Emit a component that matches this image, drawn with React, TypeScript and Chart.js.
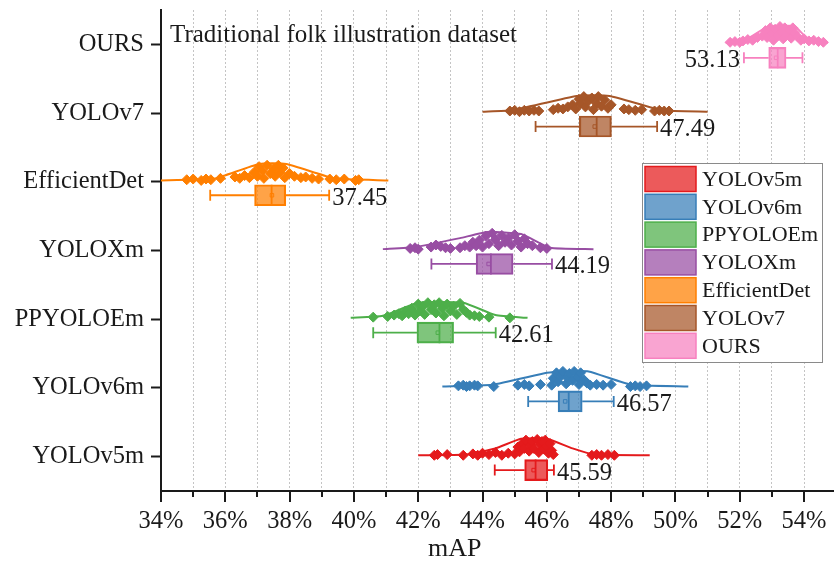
import React, { useEffect, useRef } from 'react';
import { Chart, registerables } from 'chart.js';
Chart.register(...registerables);

const CATEGORIES = ['YOLOv5m', 'YOLOv6m', 'PPYOLOEm', 'YOLOXm', 'EfficientDet', 'YOLOv7', 'OURS'];
const COLORS = ['#E41A1C', '#377EB8', '#4DAF4A', '#984EA3', '#FF7F00', '#A65628', '#F781BF'];
const BOX_FILLS = ['rgba(228,26,28,0.72)', 'rgba(55,126,184,0.72)', 'rgba(77,175,74,0.72)', 'rgba(152,78,163,0.72)', 'rgba(255,127,0,0.72)', 'rgba(166,86,40,0.72)', 'rgba(247,129,191,0.72)'];
const X_TICKS = [34, 35, 36, 37, 38, 39, 40, 41, 42, 43, 44, 45, 46, 47, 48, 49, 50, 51, 52, 53, 54];
const TITLE = 'Traditional folk illustration dataset';
const X_TITLE = 'mAP';

// box-plot statistics (mAP %)
const WHISKER_LOW = [44.38, 45.42, 40.6, 42.41, 35.53, 45.65, 52.13];
const Q1 = [45.31, 46.35, 41.96, 43.8, 36.91, 47.01, 52.9];
const MEDIAN = [45.65, 46.68, 42.66, 44.26, 37.44, 47.55, 53.18];
const Q3 = [46.03, 47.1, 43.1, 44.95, 37.88, 48.01, 53.44];
const WHISKER_HIGH = [46.22, 48.08, 44.41, 46.16, 39.23, 49.43, 53.95];
const MEANS = [45.59, 46.57, 42.61, 44.19, 37.45, 47.49, 53.13];

// raw runs: [mAP, jitter height]
const YOLOV5M_POINTS = [[42.5, 0], [42.6, 0.01], [42.9, 0.01], [43.4, 0], [43.7, 0.02], [43.85, 0], [44.0, 0.03], [44.2, 0.01], [44.4, 0.04], [44.6, 0], [44.8, 0.03], [45.0, 0.02], [45.15, 0.05], [45.1, 0.12], [45.25, 0.18], [45.3, 0.1], [45.35, 0.22], [45.45, 0.06], [45.5, 0.15], [45.55, 0.2], [45.6, 0.1], [45.7, 0.23], [45.75, 0.04], [45.8, 0.16], [45.85, 0.2], [45.9, 0.09], [45.95, 0.22], [46.0, 0.13], [46.05, 0.03], [46.1, 0.17], [46.15, 0.07], [46.2, 0.01], [47.4, 0], [47.55, 0.01], [47.7, 0], [47.9, 0.01], [48.1, 0]];
const YOLOV6M_POINTS = [[43.25, 0.01], [43.4, 0.02], [43.5, 0], [43.6, 0.01], [43.75, 0.02], [43.85, 0.01], [44.35, 0], [45.1, 0.02], [45.3, 0.03], [45.45, 0.01], [45.8, 0.03], [46.15, 0.02], [46.2, 0.12], [46.3, 0.2], [46.35, 0.07], [46.45, 0.16], [46.5, 0.22], [46.6, 0.04], [46.65, 0.12], [46.7, 0.19], [46.8, 0.09], [46.85, 0.22], [46.95, 0.14], [47.0, 0.03], [47.05, 0.2], [47.15, 0.1], [47.25, 0.05], [47.35, 0.02], [47.55, 0.03], [47.75, 0.02], [48.0, 0.03], [48.6, 0], [48.75, 0.01], [48.9, 0], [49.1, 0.01]];
const PPYOLOEM_POINTS = [[40.6, 0.01], [41.05, 0.02], [41.25, 0.04], [41.4, 0.06], [41.5, 0.03], [41.6, 0.1], [41.7, 0.06], [41.8, 0.14], [41.9, 0.04], [42.0, 0.2], [42.05, 0.1], [42.15, 0.17], [42.2, 0.05], [42.3, 0.22], [42.4, 0.12], [42.5, 0.19], [42.55, 0.07], [42.65, 0.22], [42.75, 0.14], [42.8, 0.03], [42.9, 0.2], [43.0, 0.1], [43.1, 0.17], [43.2, 0.05], [43.3, 0.21], [43.4, 0.12], [43.5, 0.08], [43.6, 0.04], [43.75, 0.03], [43.9, 0.02], [44.2, 0.01], [44.85, 0]];
const YOLOXM_POINTS = [[41.75, 0.01], [41.9, 0.02], [42.0, 0], [42.4, 0.03], [42.55, 0.06], [42.7, 0.04], [42.85, 0.02], [43.0, 0.01], [43.3, 0.02], [43.45, 0.05], [43.6, 0.03], [43.7, 0.1], [43.8, 0.05], [43.9, 0.13], [44.0, 0.03], [44.1, 0.19], [44.2, 0.08], [44.3, 0.23], [44.4, 0.14], [44.5, 0.05], [44.6, 0.2], [44.7, 0.1], [44.8, 0.16], [44.9, 0.06], [45.0, 0.21], [45.1, 0.12], [45.2, 0.03], [45.3, 0.15], [45.4, 0.08], [45.55, 0.05], [45.8, 0.02], [46.0, 0.01]];
const EFFICIENTDET_POINTS = [[34.8, 0.01], [35.0, 0.02], [35.25, 0], [35.4, 0.02], [35.55, 0.01], [35.85, 0.03], [36.3, 0.05], [36.45, 0.03], [36.6, 0.07], [36.75, 0.04], [36.9, 0.12], [37.0, 0.06], [37.05, 0.2], [37.15, 0.14], [37.2, 0.03], [37.3, 0.22], [37.4, 0.1], [37.5, 0.17], [37.55, 0.06], [37.65, 0.22], [37.7, 0.12], [37.8, 0.18], [37.85, 0.04], [38.0, 0.1], [38.15, 0.06], [38.35, 0.04], [38.5, 0.05], [38.7, 0.03], [38.9, 0.02], [39.25, 0.02], [39.45, 0.01], [39.7, 0.02], [40.05, 0], [40.15, 0.01]];
const YOLOV7_POINTS = [[44.85, 0.01], [45.0, 0.02], [45.15, 0], [45.3, 0.02], [45.45, 0.01], [45.6, 0.02], [45.75, 0.01], [46.2, 0.03], [46.35, 0.05], [46.5, 0.04], [46.65, 0.07], [46.8, 0.1], [46.9, 0.04], [47.0, 0.18], [47.05, 0.12], [47.15, 0.22], [47.2, 0.07], [47.3, 0.16], [47.4, 0.2], [47.45, 0.03], [47.55, 0.12], [47.6, 0.22], [47.7, 0.08], [47.8, 0.17], [47.9, 0.05], [48.0, 0.1], [48.4, 0.04], [48.55, 0.03], [48.75, 0.02], [48.95, 0.03], [49.35, 0.01], [49.5, 0.02], [49.65, 0.01], [49.8, 0.01]];
const OURS_POINTS = [[51.7, 0.01], [51.85, 0.02], [52.0, 0.01], [52.1, 0.03], [52.25, 0.05], [52.4, 0.04], [52.55, 0.08], [52.7, 0.1], [52.8, 0.18], [52.85, 0.08], [52.95, 0.22], [53.0, 0.14], [53.05, 0.04], [53.1, 0.2], [53.2, 0.11], [53.25, 0.24], [53.3, 0.16], [53.35, 0.06], [53.4, 0.22], [53.5, 0.13], [53.55, 0.19], [53.6, 0.07], [53.65, 0.22], [53.7, 0.15], [53.8, 0.09], [53.9, 0.04], [54.0, 0.06], [54.15, 0.03], [54.3, 0.04], [54.45, 0.02], [54.6, 0.01]];

// half-violin outlines: [mAP, height]
const YOLOV5M_DENSITY = [[42.0, 0], [43.5, 0.01], [44.4, 0.1], [45.2, 0.24], [46.0, 0.24], [46.8, 0.1], [47.5, 0.01], [49.2, 0]];
const YOLOV6M_DENSITY = [[42.75, 0], [44.3, 0.025], [46.0, 0.2], [46.5, 0.22], [47.3, 0.22], [48.6, 0.03], [50.4, 0]];
const PPYOLOEM_DENSITY = [[39.9, 0], [40.9, 0.03], [42.0, 0.22], [43.4, 0.22], [44.4, 0.04], [45.4, 0]];
const YOLOXM_DENSITY = [[40.9, 0], [41.9, 0.03], [43.3, 0.16], [44.15, 0.25], [45.2, 0.22], [46.1, 0.02], [47.45, 0]];
const EFFICIENTDET_DENSITY = [[34.0, 0], [35.0, 0.01], [35.7, 0.03], [37.05, 0.24], [37.9, 0.24], [39.4, 0.03], [41.07, 0]];
const YOLOV7_DENSITY = [[44.0, 0], [44.9, 0.02], [46.93, 0.23], [47.95, 0.23], [49.6, 0.02], [51.0, 0]];
const OURS_DENSITY = [[51.56, 0], [52.2, 0.05], [52.8, 0.22], [53.3, 0.25], [53.72, 0.24], [54.1, 0.07], [54.74, 0]];

const POINTS = [YOLOV5M_POINTS, YOLOV6M_POINTS, PPYOLOEM_POINTS, YOLOXM_POINTS, EFFICIENTDET_POINTS, YOLOV7_POINTS, OURS_POINTS];
const DENSITY = [YOLOV5M_DENSITY, YOLOV6M_DENSITY, PPYOLOEM_DENSITY, YOLOXM_DENSITY, EFFICIENTDET_DENSITY, YOLOV7_DENSITY, OURS_DENSITY];

const FONT = '"Liberation Serif", "Times New Roman", serif';
const BASE = 0.02;       // violin/points baseline above category
const BOX_OFF = 0.196;   // box centre below category
const BOX_HALF = 0.153;
const CAP_HALF = 0.08;

const extras = {
  id: 'extras',
  afterDraw(chart: any) {
    const { ctx, chartArea, scales } = chart;
    const x = scales.x, y = scales.y;
    ctx.save();
    // x tick marks (major/minor)
    ctx.strokeStyle = '#1a1a1a';
    ctx.lineWidth = 2;
    X_TICKS.forEach((v) => {
      const px = Math.round(x.getPixelForValue(v));
      ctx.beginPath();
      ctx.moveTo(px, chartArea.bottom);
      ctx.lineTo(px, chartArea.bottom + (v % 2 === 0 ? 11 : 6));
      ctx.stroke();
    });
    // title
    ctx.fillStyle = '#1a1a1a';
    ctx.font = `25px ${FONT}`;
    ctx.textAlign = 'left';
    ctx.textBaseline = 'alphabetic';
    ctx.fillText(TITLE, chartArea.left + 9, chartArea.top + 32);
    // mean labels
    ctx.font = `24.5px ${FONT}`;
    ctx.textBaseline = 'middle';
    MEANS.forEach((m, i) => {
      const txt = m.toFixed(2);
      const w = ctx.measureText(txt).width;
      const py = y.getPixelForValue(i - BOX_OFF) + 3;
      const right = x.getPixelForValue(WHISKER_HIGH[i]) + 3;
      if (right + w > chartArea.right) {
        ctx.textAlign = 'right';
        ctx.fillText(txt, x.getPixelForValue(WHISKER_LOW[i]) - 4, py);
      } else {
        ctx.textAlign = 'left';
        ctx.fillText(txt, right, py);
      }
    });
    // axis title
    ctx.font = `26px ${FONT}`;
    ctx.textAlign = 'left';
    ctx.textBaseline = 'alphabetic';
    ctx.fillText(X_TITLE, 428, 556);
    // legend
    const lx = 642, ly = 163, lw = 180, lh = 199, step = 27.8;
    ctx.fillStyle = '#fff';
    ctx.fillRect(lx, ly, lw, lh);
    ctx.strokeStyle = '#8a8a8a';
    ctx.lineWidth = 1;
    ctx.strokeRect(lx + 0.5, ly + 0.5, lw, lh);
    ctx.font = `22px ${FONT}`;
    ctx.textBaseline = 'middle';
    ctx.textAlign = 'left';
    CATEGORIES.forEach((c, i) => {
      const cy = ly + 16 + i * step;
      ctx.fillStyle = BOX_FILLS[i];
      ctx.fillRect(lx + 3, cy - 12.5, 51, 25);
      ctx.strokeStyle = COLORS[i];
      ctx.lineWidth = 1.5;
      ctx.strokeRect(lx + 3, cy - 12.5, 51, 25);
      ctx.fillStyle = '#1a1a1a';
      ctx.fillText(c, lx + 60, cy + 1);
    });
    ctx.restore();
  },
};

export default function App() {
  const ref = useRef<HTMLCanvasElement>(null);
  useEffect(() => {
    if (!ref.current) return;
    const datasets: any[] = [];
    CATEGORIES.forEach((c, i) => {
      datasets.push({
        type: 'scatter', label: c + ' density', showLine: true,
        data: DENSITY[i].map(([vx, h]) => ({ x: vx, y: i + BASE + h })),
        borderColor: COLORS[i], borderWidth: 2, pointRadius: 0, tension: 0.15, order: 5,
      });
      datasets.push({
        type: 'scatter', label: c + ' runs',
        data: POINTS[i].map(([vx, d]) => ({ x: vx, y: i + BASE + d })),
        pointStyle: 'rectRot', pointRadius: 5, backgroundColor: COLORS[i], borderColor: COLORS[i], borderWidth: 1, order: 4,
      });
      const cy = i - BOX_OFF;
      const gap = { x: null, y: null };
      datasets.push({
        type: 'scatter', label: c + ' whiskers', showLine: true, spanGaps: false,
        data: [
          { x: WHISKER_LOW[i], y: cy }, { x: Q1[i], y: cy }, gap,
          { x: Q3[i], y: cy }, { x: WHISKER_HIGH[i], y: cy }, gap,
          { x: WHISKER_LOW[i], y: cy - CAP_HALF }, { x: WHISKER_LOW[i], y: cy + CAP_HALF }, gap,
          { x: WHISKER_HIGH[i], y: cy - CAP_HALF }, { x: WHISKER_HIGH[i], y: cy + CAP_HALF }, gap,
          { x: MEDIAN[i], y: cy - BOX_HALF }, { x: MEDIAN[i], y: cy + BOX_HALF },
        ],
        borderColor: COLORS[i], borderWidth: 1.8, pointRadius: 0, order: 1,
      });
    });
    datasets.push({
      type: 'bar', label: 'boxes', indexAxis: 'y', grouped: false,
      data: CATEGORIES.map((_, i) => ({ x: [Q1[i], Q3[i]], y: i - BOX_OFF })),
      backgroundColor: BOX_FILLS, borderColor: COLORS, borderWidth: 1.5, borderSkipped: false,
      barThickness: 21, order: 2,
    });
    datasets.push({
      type: 'scatter', label: 'means',
      data: MEANS.map((m, i) => ({ x: m, y: i - BOX_OFF })),
      pointStyle: 'rect', pointRadius: 2.5, backgroundColor: 'rgba(0,0,0,0)', borderColor: COLORS, borderWidth: 1, order: 0,
    });

    const chart = new Chart(ref.current, {
      type: 'scatter',
      data: { datasets },
      plugins: [extras],
      options: {
        animation: false, responsive: false, devicePixelRatio: 1, events: [],
        layout: { padding: { top: 10, right: 1, left: 0, bottom: 0 } },
        plugins: { legend: { display: false }, tooltip: { enabled: false } },
        scales: {
          x: {
            type: 'linear', min: 34, max: 54.9, offset: false,
            afterFit: (s: any) => { s.height = 73; s.paddingLeft = 0; s.paddingRight = 0; },
            afterBuildTicks: (s: any) => { s.ticks = X_TICKS.map((v) => ({ value: v })); },
            ticks: {
              autoSkip: false, maxRotation: 0, padding: 16, color: '#1a1a1a',
              font: { family: FONT, size: 24.5 },
              callback: (v: any) => (Number(v) % 2 === 0 ? `${v}%` : ''),
            },
            grid: {
              drawTicks: false, lineWidth: 1, offset: false,
              color: (ctx: any) => (ctx.tick && ctx.tick.value === 34 ? 'rgba(0,0,0,0)' : '#c4c4c4'),
            },
            border: { color: '#1a1a1a', width: 2, dash: [2, 2] },
          },
          y: {
            type: 'linear', min: -0.5, max: 6.5, offset: false,
            afterFit: (s: any) => { s.width = 161; s.paddingTop = 0; s.paddingBottom = 0; },
            afterBuildTicks: (s: any) => { s.ticks = CATEGORIES.map((_, i) => ({ value: i })); },
            ticks: {
              padding: 7, color: '#1a1a1a', font: { family: FONT, size: 24.5 },
              callback: (v: any) => CATEGORIES[v] ?? '',
            },
            grid: { drawOnChartArea: false, drawTicks: true, offset: false, tickLength: 10, tickWidth: 2, tickColor: '#1a1a1a' },
            border: { color: '#1a1a1a', width: 2 },
          },
        },
      } as any,
    });
    return () => chart.destroy();
  }, []);
  return (
    <div style={{ position: 'absolute', left: 0, top: 0, width: 839, height: 564, background: '#fff' }}>
      <canvas ref={ref} width={839} height={564} style={{ width: 839, height: 564, display: 'block' }} />
    </div>
  );
}
